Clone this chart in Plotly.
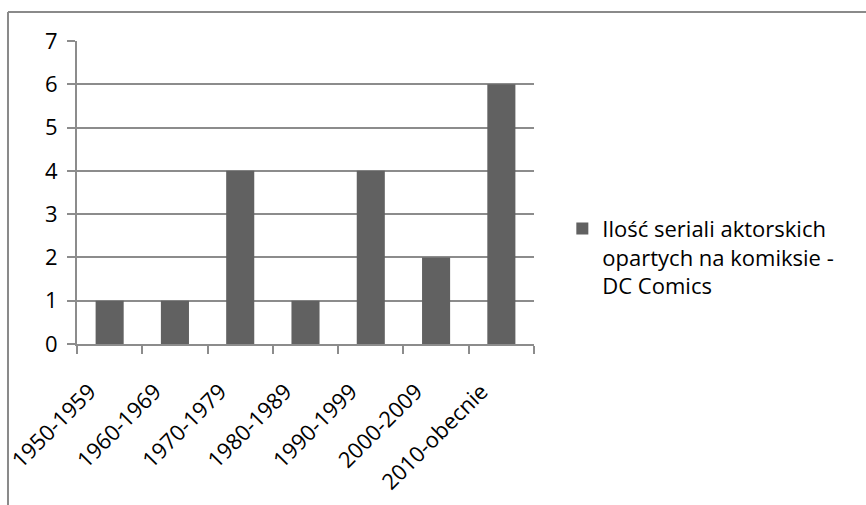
import plotly.graph_objects as go

# Number of live-action TV series based on DC Comics, per decade
decades = ["1950-1959", "1960-1969", "1970-1979", "1980-1989",
           "1990-1999", "2000-2009", "2010-obecnie"]
series_count = [1, 1, 4, 1, 4, 2, 6]
series_name = "Ilość seriali aktorskich<br>opartych na komiksie -<br>DC Comics"
y_ticks = [0, 1, 2, 3, 4, 5, 6, 7]

FONT = "'Open Sans', Lato, sans-serif"
GRID = "#8c8c8c"
BAR = "#616161"
FS = 22

fig = go.Figure()
fig.add_trace(go.Bar(
    x=decades,
    y=series_count,
    name=series_name,
    marker=dict(color=BAR, line=dict(width=0)),
    showlegend=True,
))

# outer chart frame (top and left edges visible)
frame = dict(color="#8a8a8a", width=2)
fig.add_shape(type="line", xref="paper", yref="paper",
              x0=-0.151, x1=1.75, y0=1.096, y1=1.096, line=frame)
fig.add_shape(type="line", xref="paper", yref="paper",
              x0=-0.151, x1=-0.151, y0=1.096, y1=-0.6, line=frame)

fig.update_layout(
    width=866, height=505,
    margin=dict(l=77, r=332, t=41, b=161, autoexpand=False),
    paper_bgcolor="white",
    plot_bgcolor="white",
    bargap=0.57,
    font=dict(family=FONT, size=FS, color="#000000"),
    legend=dict(
        x=1.062, xanchor="left",
        y=0.45, yanchor="top",
        valign="top",
        font=dict(family=FONT, size=FS, color="#000000"),
        bgcolor="rgba(0,0,0,0)",
    ),
    xaxis=dict(
        type="category",
        automargin=False,
        tickangle=-45,
        showline=True, linecolor=GRID, linewidth=2,
        ticks="outside", ticklen=8, tickcolor=GRID, tickwidth=2,
        tickson="boundaries",
        showgrid=False,
        ticklabelshift=-20,
        ticklabelstandoff=24,
        tickfont=dict(family=FONT, size=FS),
    ),
    yaxis=dict(
        automargin=False,
        range=[0, 7],
        tickvals=y_ticks,
        showline=True, linecolor=GRID, linewidth=2,
        ticks="outside", ticklen=8, tickcolor=GRID, tickwidth=2,
        showgrid=True, gridcolor=GRID, gridwidth=2,
        zeroline=False,
        ticklabelstandoff=5,
        tickfont=dict(family=FONT, size=FS),
    ),
)

fig.write_html("out.html")
